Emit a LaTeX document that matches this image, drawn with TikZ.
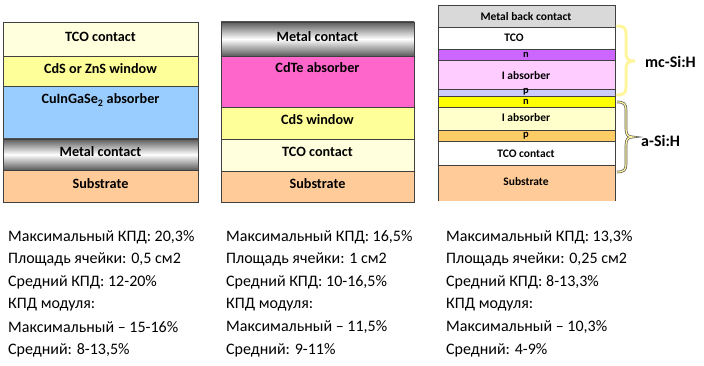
\documentclass[tikz,border=0pt]{standalone}
\usepackage{fontspec}
\setmainfont{Carlito}
\definecolor{tcoc}{HTML}{FFFFDD}
\definecolor{cdsc}{HTML}{FFFF99}
\definecolor{cigs}{HTML}{99CCFF}
\definecolor{subc}{HTML}{FFCC99}
\definecolor{cdte}{HTML}{FF66CC}
\definecolor{mbc}{HTML}{D9D9D9}
\definecolor{npur}{HTML}{CC66FF}
\definecolor{ipink}{HTML}{FFCCFF}
\definecolor{plblue}{HTML}{CCCCFF}
\definecolor{nyel}{HTML}{FFFF00}
\definecolor{ilyel}{HTML}{FFFFCC}
\definecolor{porange}{HTML}{FFCC66}
\definecolor{bracey}{HTML}{FFF59D}
\definecolor{metald}{HTML}{5A5A5A}
\tikzset{
  layerline/.style={draw=black!75, line width=0.8pt},
  lab/.style={font=\fontsize{14.2}{16}\selectfont\bfseries, inner sep=0pt},
  slab/.style={font=\fontsize{11.5}{13}\selectfont\bfseries, inner sep=0pt},
  tlab/.style={font=\fontsize{10.5}{11}\selectfont\bfseries, inner sep=0pt},
  info/.style={font=\fontsize{16}{18}\selectfont, anchor=west, inner sep=0pt},
  brlab/.style={font=\fontsize{16}{18}\selectfont\bfseries, anchor=west, inner sep=0pt},
  metal/.style={top color=metald, bottom color=metald, middle color=white}
}
\begin{document}
\begin{tikzpicture}[x=1pt,y=-1pt]
\useasboundingbox (0,0) rectangle (704,366);
% ---------- stack 1 ----------
\path[fill=tcoc] (3,22) rectangle (198,56);
\path[fill=cdsc] (3,56) rectangle (198,86);
\path[fill=cigs] (3,86) rectangle (198,139);
\shade[metal] (3,139) rectangle (198,170);
\path[fill=subc] (3,170) rectangle (198,202);
\draw[layerline] (3,22) rectangle (198,202);
\foreach \yy in {56,86,139,170} \draw[layerline] (3,\yy) -- (198,\yy);
\node[lab] (a1) at (100.5,37) {TCO contact};
\node[lab] (a2) at (100.5,69) {CdS or ZnS window};
\node[lab] (a3) at (100.5,100) {CuInGaSe\textsubscript{2} absorber};
\node[lab] (a4) at (100.5,151.5) {Metal contact};
\node[lab] (a5) at (100.5,183.5) {Substrate};
% ---------- stack 2 ----------
\shade[metal] (221,22) rectangle (414,56);
\path[fill=cdte] (221,56) rectangle (414,107);
\path[fill=cdsc] (221,107) rectangle (414,139);
\path[fill=tcoc] (221,139) rectangle (414,171);
\path[fill=subc] (221,171) rectangle (414,202);
\draw[layerline] (221,22) rectangle (414,202);
\foreach \yy in {56,107,139,171} \draw[layerline] (221,\yy) -- (414,\yy);
\node[lab] (b1) at (317.5,36.5) {Metal contact};
\node[lab] (b2) at (317.5,68) {CdTe absorber};
\node[lab] (b3) at (317.5,120) {CdS window};
\node[lab] (b4) at (317.5,151.5) {TCO contact};
\node[lab] (b5) at (317.5,183.5) {Substrate};
% ---------- stack 3 ----------
\path[fill=mbc] (438,5) rectangle (615,27.5);
\path[fill=white] (438,27.5) rectangle (615,49.5);
\path[fill=npur] (438,49.5) rectangle (615,60.5);
\path[fill=ipink] (438,60.5) rectangle (615,89.5);
\path[fill=plblue] (438,89.5) rectangle (615,96.5);
\path[fill=nyel] (438,96.5) rectangle (615,107.5);
\path[fill=ilyel] (438,107.5) rectangle (615,130.5);
\path[fill=porange] (438,130.5) rectangle (615,141.5);
\path[fill=white] (438,141.5) rectangle (615,165.5);
\path[fill=subc] (438,165.5) rectangle (615,201);
\draw[layerline] (438,201) -- (438,5) -- (615,5) -- (615,201);
\foreach \yy in {27.5,49.5,60.5,89.5,96.5,107.5,130.5,141.5,165.5} \draw[layerline] (438,\yy) -- (615,\yy);
\node[slab] (c1) at (526,17) {Metal back contact};
\node[slab] (c2) at (514,38) {TCO};
\node[tlab] (c3) at (526,54.5) {n};
\node[slab] (c4) at (526,76) {I absorber};
\node[tlab] (c5) at (526,92) {p};
\node[tlab] (c6) at (526,101.5) {n};
\node[slab] (c7) at (526,117.5) {I absorber};
\node[tlab] (c8) at (526,136) {p};
\node[slab] (c9) at (526,153.5) {TCO contact};
\node[slab] (c10) at (526,182) {Substrate};
% ---------- braces ----------
\coordinate (u1) at (617,26);
\coordinate (u2) at (617,95);
\coordinate (ut) at (635,61);
\draw[bracey, line width=3pt, line cap=round]
  (u1) .. controls (624,26) and (626,28) .. (626,34) -- (626,53)
  .. controls (626,59) and (628,61) .. (ut)
  .. controls (628,61) and (626,63) .. (626,69) -- (626,87)
  .. controls (626,93) and (624,95) .. (u2);
\coordinate (l1) at (617,102);
\coordinate (l2) at (617,172);
\coordinate (lt) at (633,137);
\foreach \w/\c in {2.6pt/black!65, 1.2pt/bracey}
\draw[\c, line width=\w]
  (l1) .. controls (624,102) and (626,104) .. (626,110) -- (626,129)
  .. controls (626,135) and (628,137) .. (lt)
  .. controls (628,137) and (626,139) .. (626,145) -- (626,164)
  .. controls (626,170) and (624,172) .. (l2);
\node[brlab] (mc) at (645,62) {mc-Si:H};
\node[brlab] (asi) at (641,141) {a-Si:H};
% ---------- text ----------
\node[info] (t11) at (8,237) {Максимальный КПД: 20,3\%};
\node[info] (t12) at (8,259.5) {Площадь ячейки: 0,5 см2};
\node[info] (t13) at (8,282) {Средний КПД: 12-20\%};
\node[info] (t14) at (8,304.5) {КПД модуля:};
\node[info] (t15) at (8,327) {Максимальный – 15-16\%};
\node[info] (t16) at (8,350) {Средний: 8-13,5\%};
\node[info] (t21) at (226,237) {Максимальный КПД: 16,5\%};
\node[info] (t22) at (226,259.5) {Площадь ячейки: 1 см2};
\node[info] (t23) at (226,282) {Средний КПД: 10-16,5\%};
\node[info] (t24) at (226,304.5) {КПД модуля:};
\node[info] (t25) at (226,327) {Максимальный – 11,5\%};
\node[info] (t26) at (226,350) {Средний: 9-11\%};
\node[info] (t31) at (446,237) {Максимальный КПД: 13,3\%};
\node[info] (t32) at (446,259.5) {Площадь ячейки: 0,25 см2};
\node[info] (t33) at (446,282) {Средний КПД: 8-13,3\%};
\node[info] (t34) at (446,304.5) {КПД модуля:};
\node[info] (t35) at (446,327) {Максимальный – 10,3\%};
\node[info] (t36) at (446,350) {Средний: 4-9\%};
\end{tikzpicture}
\end{document}
